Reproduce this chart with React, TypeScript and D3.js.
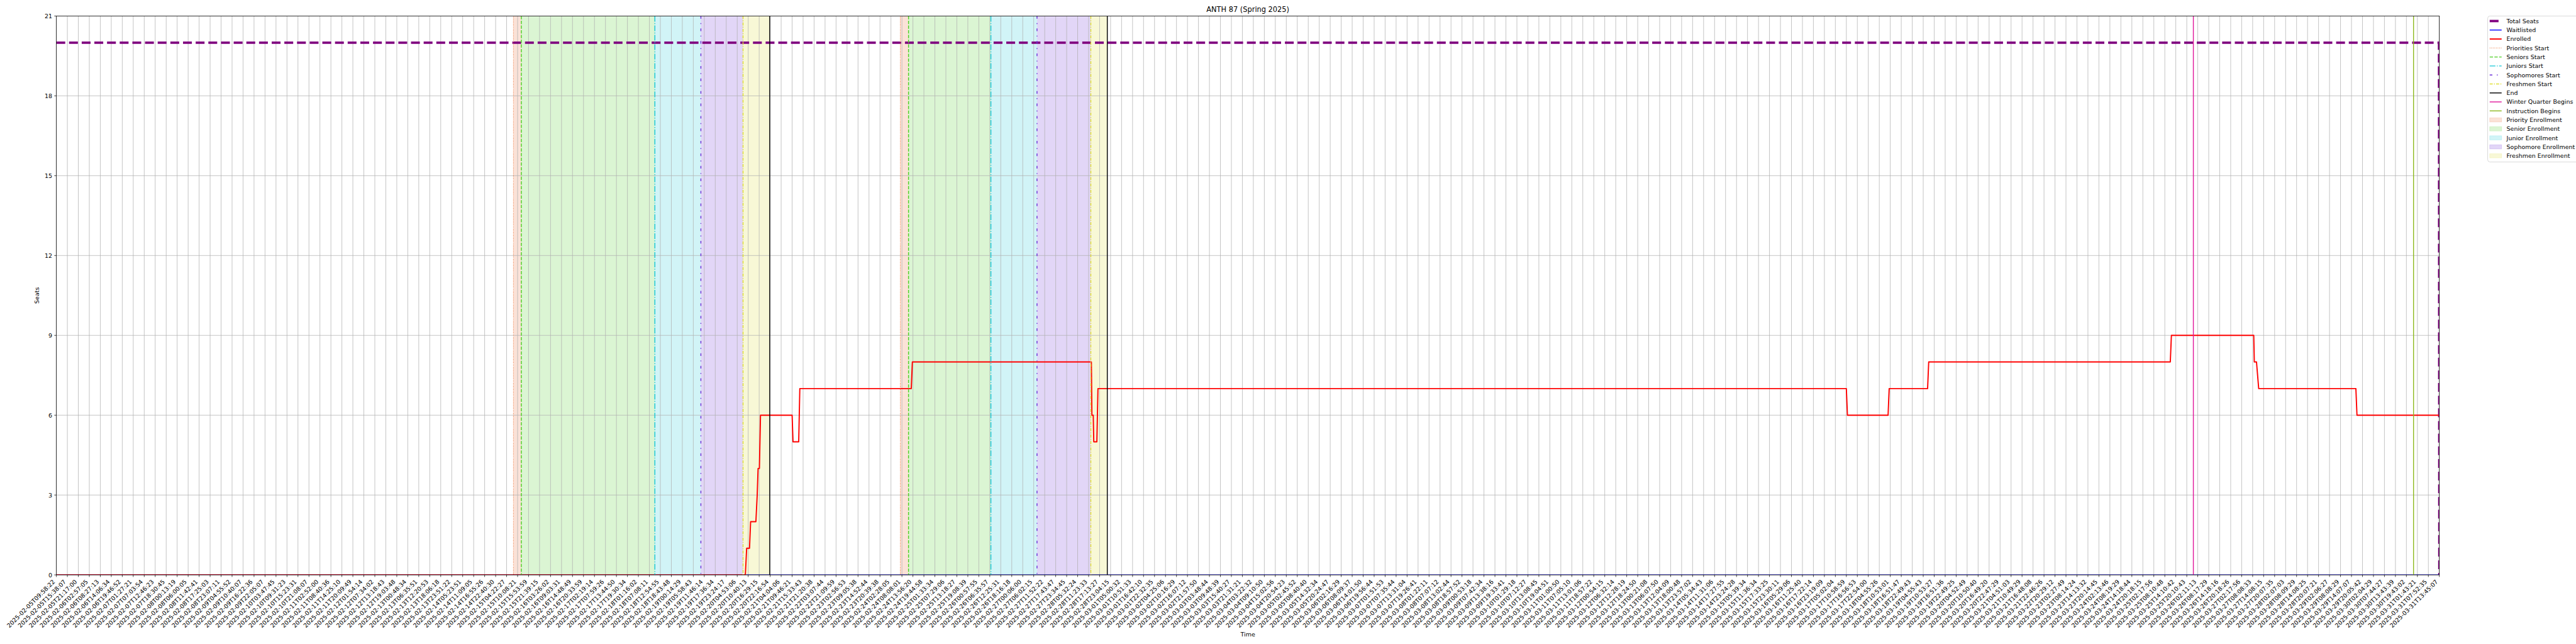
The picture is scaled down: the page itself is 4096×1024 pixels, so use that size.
import React from "react";
import * as d3 from "d3";

// ---------------- data ----------------
const tickLabels: string[] = [
  "2025-02-05T09:58:22","2025-02-05T15:38:07","2025-02-05T21:17:00","2025-02-06T02:57:05","2025-02-06T08:27:13",
  "2025-02-06T14:06:34","2025-02-06T19:46:52","2025-02-07T01:27:21","2025-02-07T07:03:54","2025-02-07T12:46:23",
  "2025-02-07T18:30:45","2025-02-08T00:13:19","2025-02-08T06:00:05","2025-02-08T11:42:41","2025-02-08T17:25:03",
  "2025-02-08T23:07:11","2025-02-09T04:55:52","2025-02-09T10:40:07","2025-02-09T16:22:36","2025-02-09T22:05:07",
  "2025-02-10T03:47:45","2025-02-10T09:31:23","2025-02-10T15:23:31","2025-02-10T21:08:07","2025-02-11T02:52:00",
  "2025-02-11T08:40:36","2025-02-11T14:25:10","2025-02-11T20:09:49","2025-02-12T01:54:14","2025-02-12T07:34:02",
  "2025-02-12T13:18:43","2025-02-12T19:03:48","2025-02-13T00:48:34","2025-02-13T06:35:51","2025-02-13T12:20:53",
  "2025-02-13T18:06:18","2025-02-13T23:51:22","2025-02-14T05:23:51","2025-02-14T11:09:05","2025-02-14T16:55:26",
  "2025-02-14T22:40:30","2025-02-15T04:22:27","2025-02-15T10:08:21","2025-02-15T15:53:59","2025-02-15T21:39:15",
  "2025-02-16T03:26:02","2025-02-16T09:03:31","2025-02-16T14:48:49","2025-02-16T20:33:59","2025-02-17T02:19:14",
  "2025-02-17T07:59:26","2025-02-17T13:44:50","2025-02-17T19:30:34","2025-02-18T01:16:02","2025-02-18T07:08:11",
  "2025-02-18T12:54:55","2025-02-18T18:43:48","2025-02-19T00:14:29","2025-02-19T05:58:43","2025-02-19T11:46:14",
  "2025-02-19T17:36:34","2025-02-19T23:24:17","2025-02-20T04:53:06","2025-02-20T10:40:13","2025-02-20T16:29:15",
  "2025-02-20T22:16:54","2025-02-21T04:04:06","2025-02-21T09:46:21","2025-02-21T15:33:43","2025-02-21T21:20:38",
  "2025-02-22T03:07:44","2025-02-22T21:09:59","2025-02-23T02:56:53","2025-02-23T09:05:38","2025-02-23T14:52:44",
  "2025-02-23T20:39:38","2025-02-24T02:28:05","2025-02-24T08:08:01","2025-02-24T13:56:20","2025-02-24T19:44:58",
  "2025-02-25T01:33:34","2025-02-25T07:29:06","2025-02-25T13:18:27","2025-02-25T19:08:39","2025-02-26T00:57:55",
  "2025-02-26T06:35:57","2025-02-26T12:25:31","2025-02-26T18:16:18","2025-02-27T00:06:00","2025-02-27T06:02:15",
  "2025-02-27T11:52:22","2025-02-27T17:43:47","2025-02-27T23:34:45","2025-02-28T05:32:24","2025-02-28T11:23:33",
  "2025-02-28T17:13:27","2025-02-28T23:04:15","2025-03-01T05:00:32","2025-03-01T10:51:33","2025-03-01T16:42:10",
  "2025-03-01T22:32:35","2025-03-02T04:25:06","2025-03-02T10:16:29","2025-03-02T16:07:12","2025-03-02T21:57:50",
  "2025-03-03T03:48:44","2025-03-03T09:48:39","2025-03-03T15:40:27","2025-03-03T21:31:21","2025-03-04T03:22:32",
  "2025-03-04T09:10:50","2025-03-04T15:02:56","2025-03-04T20:54:23","2025-03-05T02:45:52","2025-03-05T08:40:40",
  "2025-03-05T14:32:34","2025-03-05T20:24:47","2025-03-06T02:16:29","2025-03-06T08:09:37","2025-03-06T14:01:50",
  "2025-03-06T19:56:44","2025-03-07T01:51:53","2025-03-07T07:35:44","2025-03-07T13:31:04","2025-03-07T19:26:41",
  "2025-03-08T01:22:11","2025-03-08T07:07:12","2025-03-08T13:02:44","2025-03-08T18:57:52","2025-03-09T00:53:18",
  "2025-03-09T07:42:34","2025-03-09T13:38:16","2025-03-09T19:33:41","2025-03-10T01:29:18","2025-03-10T07:12:27",
  "2025-03-10T13:08:45","2025-03-10T19:04:51","2025-03-11T01:00:50","2025-03-11T07:05:10","2025-03-11T13:01:06",
  "2025-03-11T18:57:22","2025-03-12T00:54:15","2025-03-12T06:32:14","2025-03-12T12:28:19","2025-03-12T18:24:50",
  "2025-03-13T00:21:08","2025-03-13T06:07:50","2025-03-13T12:04:09","2025-03-13T18:00:48","2025-03-13T23:57:02",
  "2025-03-14T05:34:43","2025-03-14T11:31:06","2025-03-14T17:27:55","2025-03-14T23:24:28","2025-03-15T05:39:34",
  "2025-03-15T11:36:34","2025-03-15T17:33:25","2025-03-15T23:30:11","2025-03-16T05:29:06","2025-03-16T11:25:40",
  "2025-03-16T17:22:14","2025-03-16T23:19:09","2025-03-17T05:02:04","2025-03-17T10:58:59","2025-03-17T16:56:53",
  "2025-03-17T22:54:00","2025-03-18T04:55:26","2025-03-18T10:53:01","2025-03-18T16:51:47","2025-03-18T22:49:43",
  "2025-03-19T04:55:43","2025-03-19T10:53:27","2025-03-19T16:51:36","2025-03-19T22:49:25","2025-03-20T04:52:49",
  "2025-03-20T10:50:40","2025-03-20T16:49:20","2025-03-20T22:47:29","2025-03-21T04:51:03","2025-03-21T10:49:29",
  "2025-03-21T16:48:08","2025-03-21T22:46:26","2025-03-22T20:29:12","2025-03-23T02:27:49","2025-03-23T08:14:24",
  "2025-03-23T14:13:32","2025-03-23T20:14:45","2025-03-24T02:13:46","2025-03-24T08:19:29","2025-03-24T14:18:44",
  "2025-03-24T20:18:15","2025-03-25T02:17:56","2025-03-25T08:10:48","2025-03-25T14:10:42","2025-03-25T20:10:43",
  "2025-03-26T02:11:13","2025-03-26T08:17:29","2025-03-26T14:18:16","2025-03-26T20:18:26","2025-03-27T02:17:56",
  "2025-03-27T08:08:33","2025-03-27T14:08:15","2025-03-27T20:07:35","2025-03-28T02:07:03","2025-03-28T08:09:29",
  "2025-03-28T14:08:25","2025-03-28T20:07:21","2025-03-29T02:06:27","2025-03-29T08:08:29","2025-03-29T14:07:07",
  "2025-03-29T20:05:42","2025-03-30T02:04:29","2025-03-30T07:44:27","2025-03-30T13:43:39","2025-03-30T19:43:02",
  "2025-03-31T01:43:21","2025-03-31T07:52:35","2025-03-31T13:45:07",
];

const yTickValues = [0, 3, 6, 9, 12, 15, 18, 21];

// positions are in tick-index units (0 = first tick label)
const enrolledX = [0, 62.74, 62.86, 63.12, 63.22, 63.7, 63.82, 63.9, 64.02, 64.12, 67.0, 67.08, 67.6, 67.7,
  77.85, 77.95, 94.25, 94.3, 94.42, 94.47, 94.75, 94.85, 163.0, 163.1, 166.8, 166.9, 170.4, 170.5,
  192.5, 192.6, 200.1, 200.15, 200.35, 200.55, 209.4, 209.5, 217];
const enrolledY = [0, 0, 1, 1, 2, 2, 3, 4, 4, 6, 6, 5, 5, 7,
  7, 8, 8, 6, 6, 5, 5, 7, 7, 6, 6, 7, 7, 8,
  8, 9, 9, 8, 8, 7, 7, 6, 6];

const totalSeatsX = [0, 216.97, 217];
const totalSeatsY = [20, 20, 0];

const waitlistX = [0, 217];
const waitlistY = [0, 0];

// priority, seniors, juniors, sophomores, freshmen, end
const pass1Marks = [41.62, 42.34, 54.5, 58.69, 62.53, 64.96];
const pass2Marks = [76.85, 77.6, 85.1, 89.3, 94.2, 95.7];
const winterQuarterBegins = 194.6;
const instructionBegins = 214.65;

// ---------------- styles ----------------
const C = {
  total: "#800080",
  wait: "#0000ff",
  enrolled: "#ff0000",
  priority: "#ec7035",
  senior: "#4dcf22",
  junior: "#17c8d6",
  soph: "#6c30d8",
  fresh: "#dede30",
  end: "#000000",
  winter: "#e0189a",
  instr: "#8db81f",
};

const FS = 13.9;
const FONT = "DejaVu Sans, Liberation Sans, sans-serif";
const L = 131.3, R = 5681.7, T = 37.3, B = 1339;

const startStyles = [
  { color: C.priority, dash: "1.4 2.3", w: 1.5 },
  { color: C.senior, dash: "7.7 3.3", w: 2.08 },
  { color: C.junior, dash: "13.3 3.3 2.1 3.3", w: 2.08 },
  { color: C.soph, dash: "6.2 10.4 2.1 10.4", w: 2.08 },
  { color: C.fresh, dash: "7 3 2 3", w: 2.08 },
  { color: C.end, dash: null, w: 2.08 },
];
const spanColors = [C.priority, C.senior, C.junior, C.soph, C.fresh];

type LegendItem = { label: string; kind: "line" | "patch"; color: string; w?: number; dash?: string | null };
const legendItems: LegendItem[] = [
  { label: "Total Seats", kind: "line", color: C.total, w: 5.56, dash: "20.6 8.9" },
  { label: "Waitlisted", kind: "line", color: C.wait, w: 2.08, dash: null },
  { label: "Enrolled", kind: "line", color: C.enrolled, w: 2.78, dash: null },
  { label: "Priorities Start", kind: "line", color: C.priority, w: 1.5, dash: "1.4 2.3" },
  { label: "Seniors Start", kind: "line", color: C.senior, w: 2.08, dash: "7.7 3.3" },
  { label: "Juniors Start", kind: "line", color: C.junior, w: 2.08, dash: "13.3 3.3 2.1 3.3" },
  { label: "Sophomores Start", kind: "line", color: C.soph, w: 2.08, dash: "6.2 10.4 2.1 10.4" },
  { label: "Freshmen Start", kind: "line", color: C.fresh, w: 2.08, dash: "7 3 2 3" },
  { label: "End", kind: "line", color: C.end, w: 2.08, dash: null },
  { label: "Winter Quarter Begins", kind: "line", color: C.winter, w: 2.08, dash: null },
  { label: "Instruction Begins", kind: "line", color: C.instr, w: 2.08, dash: null },
  { label: "Priority Enrollment", kind: "patch", color: C.priority },
  { label: "Senior Enrollment", kind: "patch", color: C.senior },
  { label: "Junior Enrollment", kind: "patch", color: C.junior },
  { label: "Sophomore Enrollment", kind: "patch", color: C.soph },
  { label: "Freshmen Enrollment", kind: "patch", color: C.fresh },
];

export default function App() {
  const x = d3.scaleLinear().domain([0, tickLabels.length - 1]).range([L, R]);
  const y = d3.scaleLinear().domain([0, 21]).range([B, T]);
  const line = d3.line<[number, number]>().x((d) => x(d[0])).y((d) => y(d[1]));
  const zip = (xs: number[], ys: number[]) => xs.map((v, i) => [v, ys[i]] as [number, number]);

  const passes = [pass1Marks, pass2Marks];
  const tickIdx = d3.range(tickLabels.length);

  return (
    <svg
      width={4096}
      height={1024}
      viewBox="0 0 6000 1500"
      style={{ position: "absolute", left: 0, top: 0, display: "block", background: "#fff" }}
      fontFamily={FONT}
    >
      <defs>
        <clipPath id="plotclip">
          <rect x={L} y={T} width={R - L} height={B - T} />
        </clipPath>
      </defs>
      <rect x={0} y={0} width={6000} height={1500} fill="#fff" />

      {/* enrollment spans */}
      <g clipPath="url(#plotclip)">
        {passes.map((m, pi) =>
          spanColors.map((c, i) => (
            <rect key={`s${pi}-${i}`} x={x(m[i])} y={T} width={x(m[i + 1]) - x(m[i])} height={B - T}
              fill={c} fillOpacity={0.2} />
          ))
        )}
      </g>

      {/* grid */}
      <g stroke="#b0b0b0" strokeWidth={1.1}>
        {tickIdx.map((i) => (
          <line key={`gx${i}`} x1={x(i)} x2={x(i)} y1={T} y2={B} />
        ))}
        {yTickValues.map((v) => (
          <line key={`gy${v}`} x1={L} x2={R} y1={y(v)} y2={y(v)} />
        ))}
      </g>

      <g clipPath="url(#plotclip)" fill="none">
        <path d={line(zip(totalSeatsX, totalSeatsY)) || ""} stroke={C.total} strokeWidth={5.56} strokeDasharray="20.6 8.9" />
        <path d={line(zip(waitlistX, waitlistY)) || ""} stroke={C.wait} strokeWidth={2.08} />
        <path d={line(zip(enrolledX, enrolledY)) || ""} stroke={C.enrolled} strokeWidth={2.78} strokeLinejoin="round" />
        {passes.map((m, pi) =>
          m.map((v, i) => (
            <line key={`v${pi}-${i}`} x1={x(v)} x2={x(v)} y1={T} y2={B}
              stroke={startStyles[i].color} strokeWidth={startStyles[i].w}
              strokeDasharray={startStyles[i].dash || undefined} />
          ))
        )}
        <line x1={x(winterQuarterBegins)} x2={x(winterQuarterBegins)} y1={T} y2={B} stroke={C.winter} strokeWidth={2.08} />
        <line x1={x(instructionBegins)} x2={x(instructionBegins)} y1={T} y2={B} stroke={C.instr} strokeWidth={2.08} />
      </g>

      {/* spines */}
      <rect x={L} y={T} width={R - L} height={B - T} fill="none" stroke="#000" strokeWidth={1.1} />

      {/* y ticks */}
      {yTickValues.map((v) => (
        <g key={`yt${v}`}>
          <line x1={L - 4.86} x2={L} y1={y(v)} y2={y(v)} stroke="#000" strokeWidth={1.1} />
          <text x={L - 9.7} y={y(v)} dy="0.36em" textAnchor="end" fontSize={FS} fill="#000">{v}</text>
        </g>
      ))}

      {/* x ticks */}
      {tickIdx.map((i) => (
        <g key={`xt${i}`}>
          <line x1={x(i)} x2={x(i)} y1={B} y2={B + 4.86} stroke="#000" strokeWidth={1.1} />
          <text transform={`translate(${x(i) - 2.3},${B + 17}) rotate(-45)`} textAnchor="end" fontSize={FS} fill="#000">
            {tickLabels[i]}
          </text>
        </g>
      ))}

      {/* labels */}
      <text x={(L + R) / 2} y={28.3} textAnchor="middle" fontSize={16.67} fill="#000">ANTH 87 (Spring 2025)</text>
      <text x={(L + R) / 2} y={1482} textAnchor="middle" fontSize={FS} fill="#000">Time</text>
      <text transform={`translate(91,${(T + B) / 2}) rotate(-90)`} textAnchor="middle" fontSize={FS} fill="#000">Seats</text>

      {/* legend */}
      <g>
        <rect x={5794.3} y={T} width={220} height={340} rx={5.5} ry={5.5} fill="#fff" fillOpacity={0.8} stroke="#cccccc" strokeWidth={1.1} />
        {legendItems.map((it, i) => {
          const cy = 49 + 20.93 * i;
          const hx = 5799;
          return (
            <g key={`lg${i}`}>
              {it.kind === "line" ? (
                <line x1={hx} x2={hx + 27.8} y1={cy} y2={cy} stroke={it.color} strokeWidth={it.w}
                  strokeDasharray={it.dash || undefined} />
              ) : (
                <rect x={hx} y={cy - 4.87} width={27.8} height={9.73} fill={it.color} fillOpacity={0.2}
                  stroke={it.color} strokeOpacity={0.2} strokeWidth={1.1} />
              )}
              <text x={5838.3} y={cy} dy="0.36em" fontSize={FS} fill="#000">{it.label}</text>
            </g>
          );
        })}
      </g>
    </svg>
  );
}
